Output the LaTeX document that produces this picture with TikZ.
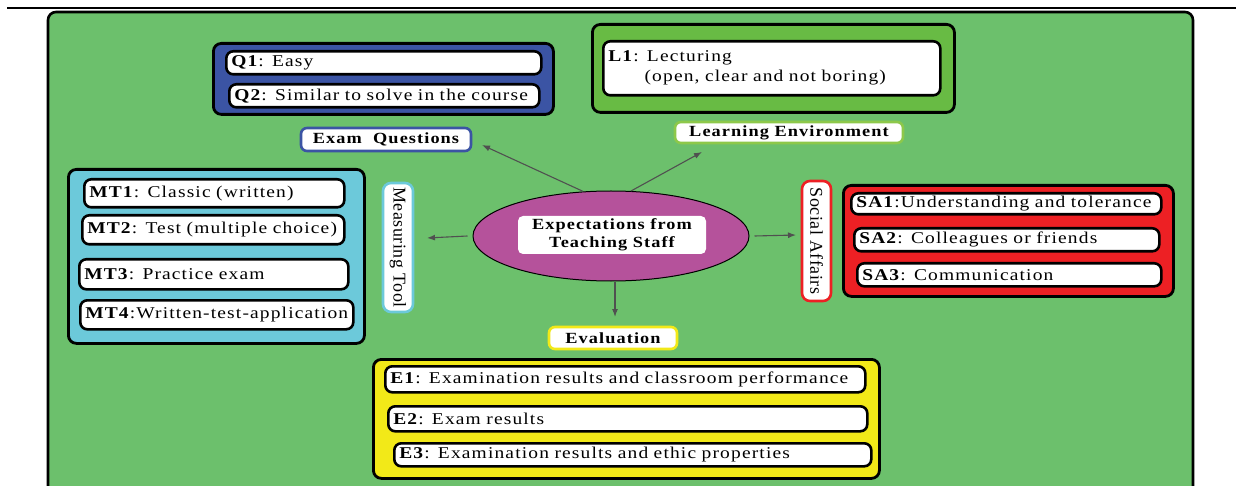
\documentclass[tikz,border=0pt]{standalone}
\usepackage{fontspec}
\setmainfont{Liberation Serif}
\newfontfamily\itemf{Liberation Serif}[FakeStretch=1.18,LetterSpace=7]
\newfontfamily\rotf{Liberation Serif}[LetterSpace=3]
\usetikzlibrary{shapes.geometric,arrows.meta}
\definecolor{bggreen}{HTML}{6CC06C}
\definecolor{qblue}{HTML}{3B54A4}
\definecolor{lgreen}{HTML}{68BB44}
\definecolor{lgreenb}{HTML}{8DC84A}
\definecolor{mtcyan}{HTML}{6CC9DA}
\definecolor{sared}{HTML}{ED2024}
\definecolor{eyellow}{HTML}{F2E918}
\definecolor{ellmag}{HTML}{B5529B}
\definecolor{arrowgray}{HTML}{505050}
\tikzset{
  grp/.style={draw=black, line width=2.8pt, rounded corners=8pt, anchor=north west, inner sep=0pt},
  item/.style={draw=black, line width=2.6pt, fill=white, rounded corners=7pt, inner xsep=5pt, inner ysep=0pt,
    align=left, anchor=north west, font=\itemf\fontsize{16.5}{20}\selectfont},
  lab/.style={fill=white, line width=2.6pt, rounded corners=6pt, inner sep=0pt,
    font=\itemf\bfseries\fontsize{15.5}{17}\selectfont},
  rlab/.style={fill=white, line width=2.6pt, rounded corners=8pt, inner sep=0pt, rotate=-90,
    font=\rotf\fontsize{18}{20}\selectfont},
  arr/.style={draw=arrowgray, line width=1.1pt, -{Latex[length=8pt,width=6pt]}}
}
\begin{document}
\begin{tikzpicture}[x=1pt,y=-1pt]
\useasboundingbox (0,0) rectangle (1236,486);
\clip (0,0) rectangle (1236,486);
\draw[line width=2.5pt] (7,8) -- (1236,8);
\draw[line width=2.6pt, fill=bggreen, rounded corners=8pt] (48,12) rectangle (1193,520);

% group boxes
\node[grp, fill=qblue, minimum width=340, minimum height=71] (Q) at (212,42) {};
\node[grp, fill=lgreen, minimum width=362, minimum height=88] (L) at (591,23) {};
\node[grp, fill=mtcyan, minimum width=296, minimum height=174] (MT) at (67,168) {};
\node[grp, fill=sared, minimum width=330, minimum height=111] (SA) at (842,184) {};
\node[grp, fill=eyellow, minimum width=506, minimum height=119] (E) at (372,358) {};

% items
\node[item, text width=305pt, minimum height=23] (q1) at (225,50) {\mbox{\textbf{Q1}: Easy}};
\node[item, text width=300pt, minimum height=23] (q2) at (228,83) {\mbox{\textbf{Q2}: Similar to solve in the course}};
\node[item, text width=327pt, minimum height=54] (l1) at (602,40) {\mbox{\textbf{L1}: Lecturing}\\\mbox{\hspace*{2.2em}(open, clear and not boring)}};
\node[item, text width=250pt, minimum height=28] (mt1) at (83,178) {\mbox{\textbf{MT1}: Classic (written)}};
\node[item, text width=252pt, minimum height=29] (mt2) at (81,214) {\mbox{\textbf{MT2}: Test (multiple choice)}};
\node[item, text width=259pt, minimum height=30] (mt3) at (78,258) {\mbox{\textbf{MT3}: Practice exam}};
\node[item, text width=263pt, minimum height=29] (mt4) at (79,299) {\mbox{\textbf{MT4}:Written-test-application}};
\node[item, text width=300pt, minimum height=21] (sa1) at (850,192) {\mbox{\textbf{SA1}:Understanding and tolerance}};
\node[item, text width=295pt, minimum height=23] (sa2) at (853,227) {\mbox{\textbf{SA2}: Colleagues or friends}};
\node[item, text width=294pt, minimum height=23] (sa3) at (856,262) {\mbox{\textbf{SA3}: Communication}};
\node[item, text width=470pt, minimum height=26] (e1) at (384,365) {\mbox{\textbf{E1}: Examination results and classroom performance}};
\node[item, text width=469pt, minimum height=25] (e2) at (387,405) {\mbox{\textbf{E2}: Exam results}};
\node[item, text width=467pt, minimum height=23] (e3) at (393,442) {\mbox{\textbf{E3}: Examination results and ethic properties}};

% category labels
\node[lab, draw=qblue, minimum width=170, minimum height=23] (eq) at (386,139.5) {Exam\ \ Questions};
\node[lab, draw=lgreenb, minimum width=228, minimum height=21] (le) at (789,132.5) {Learning Environment};
\node[lab, draw=eyellow, minimum width=128, minimum height=22] (ev) at (613,338) {Evaluation};
\node[rlab, draw=mtcyan, minimum width=129, minimum height=30] (mt) at (398,247.5) {Measuring Tool};
\node[rlab, draw=sared, minimum width=120, minimum height=29] (sa) at (816.5,241) {Social Affairs};

% centre
\node[ellipse, draw=black, line width=1pt, fill=ellmag, minimum width=276, minimum height=90, inner sep=0pt] (ell) at (611,236) {};
\node[fill=white, rounded corners=5pt, minimum width=188, minimum height=38, inner sep=0pt, align=center,
  font=\itemf\bfseries\fontsize{15.5}{18}\selectfont] (title) at (612,235) {Expectations from\\Teaching Staff};

% connectors
\coordinate (eqtip) at (482,145);
\coordinate (letip) at (702,152);
\coordinate (mttip) at (427,238);
\coordinate (satip) at (796,235);
\coordinate (evtip) at (615,317);
\draw[arr] (ell.122) -- (eqtip);
\draw[arr] (ell.66) -- (letip);
\draw[arr] ([xshift=-5pt]ell.west) -- (mttip);
\draw[arr] ([xshift=5pt]ell.east) -- (satip);
\draw[arr] ([xshift=4pt]ell.south) -- (evtip);
\end{tikzpicture}
\end{document}
